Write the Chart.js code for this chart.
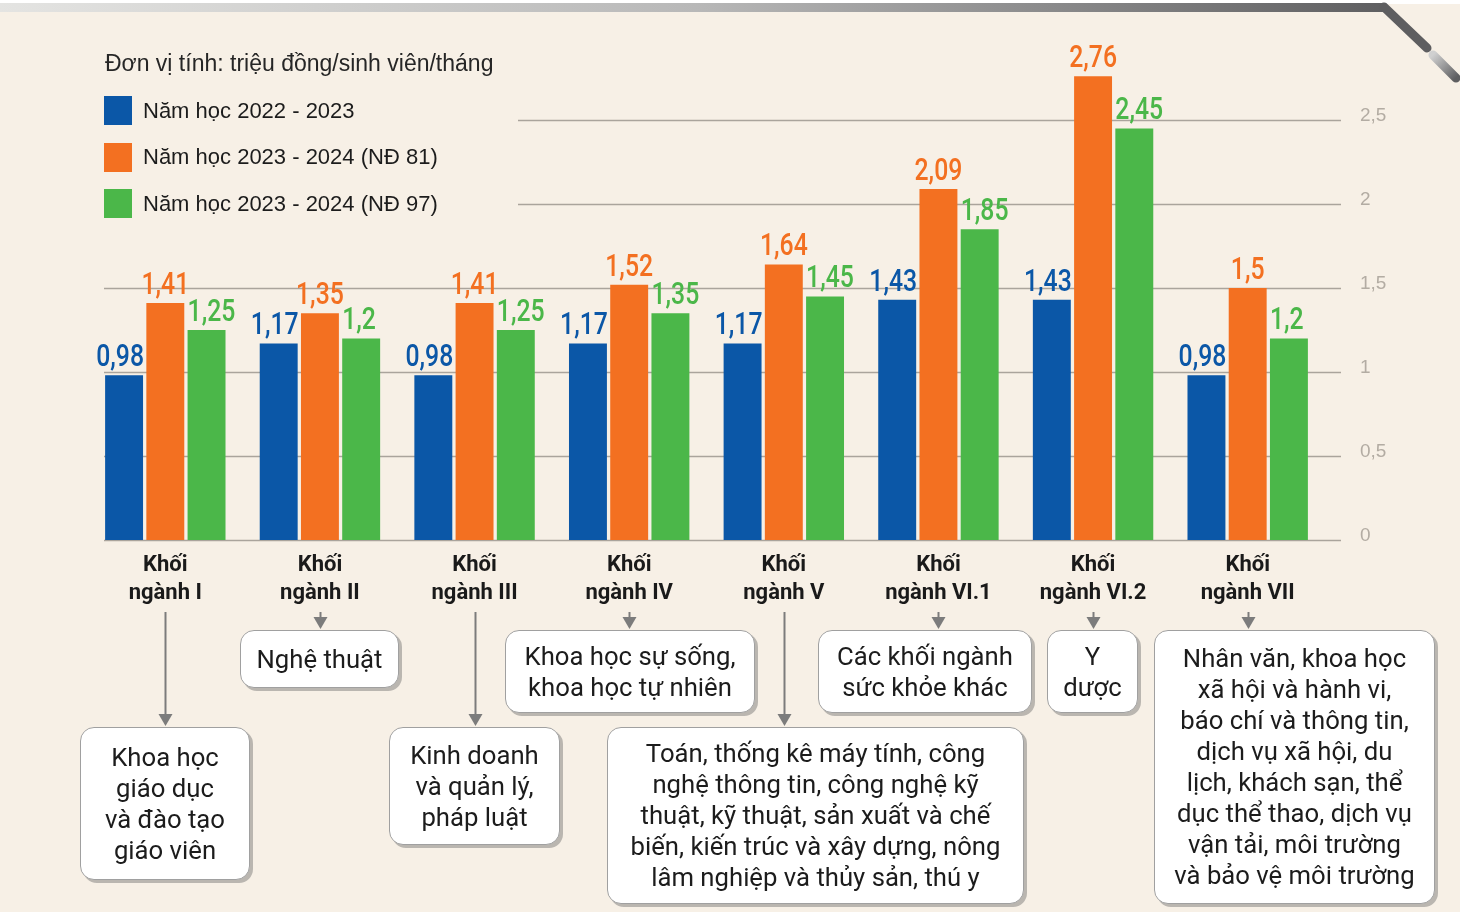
<!DOCTYPE html>
<html>
<head>
<meta charset="utf-8">
<script src="https://cdn.jsdelivr.net/npm/chart.js@4.4.1/dist/chart.umd.min.js"></script>
<style>
html,body{margin:0;padding:0;background:#f7f0e6;width:1460px;height:912px;overflow:hidden;}
#wrap{position:relative;width:1460px;height:912px;background:#f7f0e6;}
#chart{position:absolute;left:0;top:0;}
#deco{position:absolute;left:0;top:0;}
.box{position:absolute;box-sizing:border-box;background:#fff;border:1.5px solid #a0a0a0;border-radius:14px;
  box-shadow:3px 3px 0 rgba(110,110,110,0.45);display:flex;align-items:center;justify-content:center;
  text-align:center;font-family:Roboto,"Liberation Sans",sans-serif;font-size:25.7px;line-height:31px;color:#1c1c1c;}
#legend{position:absolute;left:0;top:0;font-family:"Liberation Sans",Arial,sans-serif;color:#1c1c1c;}
.ltitle{position:absolute;left:105px;top:50px;font-size:23px;white-space:nowrap;color:#262626;}
.litem{position:absolute;left:104px;height:29px;display:flex;align-items:center;white-space:nowrap;font-size:22px;}
.lsw{width:28px;height:29px;margin-right:11px;}
</style>
</head>
<body>
<div id="wrap">
  <svg id="deco" width="1460" height="912">
    <defs>
      <linearGradient id="band" x1="0" y1="0" x2="1" y2="0">
        <stop offset="0" stop-color="#e4e4e2"/>
        <stop offset="0.5" stop-color="#b8b8b8"/>
        <stop offset="1" stop-color="#5e5e60"/>
      </linearGradient>
      <linearGradient id="tail" x1="0" y1="0" x2="1" y2="1">
        <stop offset="0" stop-color="#d0d0d0"/>
        <stop offset="1" stop-color="#5e5e60"/>
      </linearGradient>
    </defs>
    <rect x="0" y="0" width="1460" height="4" fill="#ffffff"/>
    <polygon points="0,3 1386,3 1392,12 0,12" fill="url(#band)"/>
    <polyline points="1384,7 1427,48" stroke="#5e5e60" stroke-width="9" stroke-linecap="round" fill="none"/>
    <polyline points="1433,55 1456,78" stroke="url(#tail)" stroke-width="9" stroke-linecap="round" fill="none"/>
  </svg>
  <canvas id="chart" width="1460" height="912"></canvas>
  <div id="legend"></div>
  <div id="boxes"></div>
</div>
<script>
// ---------- DATA ----------
const categories = [
  ["Khối", "ngành I"], ["Khối", "ngành II"], ["Khối", "ngành III"], ["Khối", "ngành IV"],
  ["Khối", "ngành V"], ["Khối", "ngành VI.1"], ["Khối", "ngành VI.2"], ["Khối", "ngành VII"]
];
const seriesNames = ["Năm học 2022 - 2023", "Năm học 2023 - 2024 (NĐ 81)", "Năm học 2023 - 2024 (NĐ 97)"];
const values2022 = [0.98, 1.17, 0.98, 1.17, 1.17, 1.43, 1.43, 0.98];
const valuesND81 = [1.41, 1.35, 1.41, 1.52, 1.64, 2.09, 2.76, 1.5];
const valuesND97 = [1.25, 1.2, 1.25, 1.35, 1.45, 1.85, 2.45, 1.2];
const yTickValues = [0, 0.5, 1, 1.5, 2, 2.5];
const yTickLabels = ["0", "0,5", "1", "1,5", "2", "2,5"];
const unitTitle = "Đơn vị tính: triệu đồng/sinh viên/tháng";
const descriptions = [
  ["Khoa học", "giáo dục", "và đào tạo", "giáo viên"],
  ["Nghệ thuật"],
  ["Kinh doanh", "và quản lý,", "pháp luật"],
  ["Khoa học sự sống,", "khoa học tự nhiên"],
  ["Toán, thống kê máy tính, công", "nghệ thông tin, công nghệ kỹ", "thuật, kỹ thuật, sản xuất và chế", "biến, kiến trúc và xây dựng, nông", "lâm nghiệp và thủy sản, thú y"],
  ["Các khối ngành", "sức khỏe khác"],
  ["Y", "dược"],
  ["Nhân văn, khoa học", "xã hội và hành vi,", "báo chí và thông tin,", "dịch vụ xã hội, du", "lịch, khách sạn, thể", "dục thể thao, dịch vụ", "vận tải, môi trường", "và bảo vệ môi trường"]
];

// ---------- STYLE / LAYOUT ----------
const colors = ["#0b57a7", "#f37021", "#4bb749"];
const labelAlign = ["right", "center", "left"];
const boxLayout = [
  {l: 80, t: 727, w: 170, h: 153},
  {l: 240, t: 630, w: 159, h: 58},
  {l: 389, t: 727, w: 171, h: 118},
  {l: 505, t: 630, w: 250, h: 83},
  {l: 607, t: 727, w: 417, h: 177},
  {l: 818, t: 630, w: 214, h: 83},
  {l: 1047, t: 630, w: 91, h: 83},
  {l: 1154, t: 630, w: 281, h: 274}
];

// legend (HTML)
const legend = document.getElementById('legend');
legend.innerHTML = '<div class="ltitle">' + unitTitle + '</div>' +
  seriesNames.map((n, i) => '<div class="litem" style="top:' + (96 + i * 46.5) + 'px"><div class="lsw" style="background:' + colors[i] + '"></div>' + n + '</div>').join('');

// description boxes (HTML)
const boxes = document.getElementById('boxes');
boxes.innerHTML = descriptions.map((lines, i) => {
  const b = boxLayout[i];
  return '<div class="box" style="left:' + b.l + 'px;top:' + b.t + 'px;width:' + b.w + 'px;height:' + b.h + 'px"><div>' + lines.join('<br>') + '</div></div>';
}).join('');

const fmt = v => String(v).replace('.', ',');

const gridPlugin = {
  id: 'gridPlugin',
  beforeDatasetsDraw(chart) {
    const {ctx, chartArea, scales: {y}} = chart;
    ctx.save();
    ctx.strokeStyle = '#aaa49c';
    ctx.lineWidth = 1.5;
    yTickValues.forEach((v) => {
      const py = Math.round(y.getPixelForValue(v)) + 0.5;
      const x0 = v >= 2 ? 518 : chartArea.left + 16;
      ctx.beginPath();
      ctx.moveTo(x0, py);
      ctx.lineTo(chartArea.right + 16, py);
      ctx.stroke();
    });
    ctx.fillStyle = '#b3aca3';
    ctx.font = '19px "Liberation Sans", Arial, sans-serif';
    ctx.textAlign = 'left';
    ctx.textBaseline = 'middle';
    yTickValues.forEach((v, i) => {
      ctx.fillText(yTickLabels[i], chartArea.right + 35, y.getPixelForValue(v) - 4);
    });
    ctx.restore();
  }
};

const SX = 0.8;
const valueLabelPlugin = {
  id: 'valueLabels',
  afterDatasetsDraw(chart) {
    const {ctx} = chart;
    ctx.save();
    ctx.font = '500 31px Roboto, "Liberation Sans", sans-serif';
    ctx.textBaseline = 'alphabetic';
    chart.data.datasets.forEach((ds, di) => {
      const meta = chart.getDatasetMeta(di);
      ctx.fillStyle = colors[di];
      meta.data.forEach((bar, i) => {
        const txt = fmt(ds.data[i]);
        const align = labelAlign[di];
        let x = bar.x;
        if (align === 'right') x = bar.x + bar.width / 2 + 1;
        if (align === 'left') x = bar.x - bar.width / 2;
        ctx.save();
        ctx.translate(x, bar.y - 9);
        ctx.scale(SX, 1);
        ctx.textAlign = align;
        ctx.fillText(txt, 0, 0);
        ctx.restore();
      });
    });
    ctx.restore();
  }
};

const arrowEnds = [727, 630, 727, 630, 727, 630, 630, 630];
const arrowPlugin = {
  id: 'arrows',
  afterDraw(chart) {
    const {ctx, scales: {x}} = chart;
    ctx.save();
    ctx.strokeStyle = '#7c7c7c';
    ctx.fillStyle = '#7c7c7c';
    ctx.lineWidth = 2;
    arrowEnds.forEach((end, i) => {
      const px = Math.round(x.getPixelForValue(i)) + 0.5;
      const top = 612;
      ctx.beginPath();
      ctx.moveTo(px, top);
      ctx.lineTo(px, end - 10);
      ctx.stroke();
      ctx.beginPath();
      ctx.moveTo(px - 7, end - 13);
      ctx.lineTo(px + 7, end - 13);
      ctx.lineTo(px, end - 1);
      ctx.closePath();
      ctx.fill();
    });
    ctx.restore();
  }
};

new Chart(document.getElementById('chart'), {
  type: 'bar',
  data: {
    labels: categories,
    datasets: [
      {label: seriesNames[0], data: values2022, backgroundColor: colors[0]},
      {label: seriesNames[1], data: valuesND81, backgroundColor: colors[1]},
      {label: seriesNames[2], data: valuesND97, backgroundColor: colors[2]}
    ]
  },
  options: {
    responsive: false,
    animation: false,
    devicePixelRatio: 1,
    layout: {padding: {left: 88, right: 135, top: 36, bottom: 293}},
    datasets: {bar: {categoryPercentage: 0.8, barPercentage: 0.92, borderWidth: 0}},
    plugins: {legend: {display: false}, tooltip: {enabled: false}},
    scales: {
      x: {
        grid: {display: false, drawTicks: false},
        border: {display: false},
        ticks: {
          color: '#1a1a1a',
          padding: 12,
          font: {family: 'Roboto', weight: 'bold', size: 22, lineHeight: 1.25},
          maxRotation: 0,
          autoSkip: false
        }
      },
      y: {
        display: false,
        min: 0,
        max: 3
      }
    }
  },
  plugins: [gridPlugin, valueLabelPlugin, arrowPlugin]
});
</script>
</body>
</html>
